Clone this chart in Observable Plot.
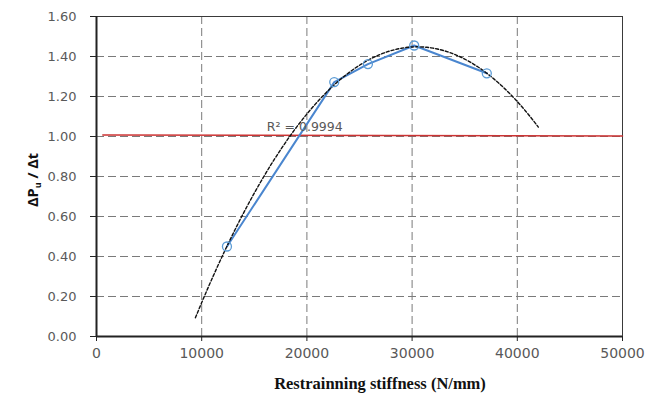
<!DOCTYPE html>
<html>
<head>
<meta charset="utf-8">
<script src="https://cdn.jsdelivr.net/npm/d3@7"></script>
<script src="https://cdn.jsdelivr.net/npm/@observablehq/plot@0.6"></script>
<style>
  html, body { margin: 0; padding: 0; background: #fff; }
  #chart { width: 658px; height: 394px; }
</style>
</head>
<body>
<div id="chart"></div>
<script>
// Measured restraint stiffness (N/mm) against the ratio ΔPu / Δt
const stiffness = [12400, 22600, 25800, 30200, 37100];
const ratio = [0.45, 1.272, 1.362, 1.455, 1.316];

// Reference line close to a ratio of 1.0
const refStiffness = [600, 50000];
const refRatio = [1.008, 1.002];

// Extent of the second-order polynomial trendline and its fit quality
const trendFrom = 9400;
const trendTo = 42000;
const r2Text = "R² = 0.9994";

const xTicks = [0, 10000, 20000, 30000, 40000, 50000];
const yTicks = [0, 0.2, 0.4, 0.6, 0.8, 1.0, 1.2, 1.4, 1.6];

const points = stiffness.map((x, i) => ({x, y: ratio[i]}));
const refLine = refStiffness.map((x, i) => ({x, y: refRatio[i]}));

// Least-squares quadratic y = a + b·u + c·u², u in thousands of N/mm
function quadFit(xs, ys) {
  const u = xs.map(v => v / 1000);
  const S = k => d3.sum(u, v => v ** k);
  const T = k => d3.sum(u, (v, i) => v ** k * ys[i]);
  const M = [[S(0), S(1), S(2), T(0)],
             [S(1), S(2), S(3), T(1)],
             [S(2), S(3), S(4), T(2)]];
  for (let i = 0; i < 3; i++) {
    for (let j = i + 1; j < 3; j++) {
      const f = M[j][i] / M[i][i];
      for (let k = i; k < 4; k++) M[j][k] -= f * M[i][k];
    }
  }
  const c = M[2][3] / M[2][2];
  const b = (M[1][3] - M[1][2] * c) / M[1][1];
  const a = (M[0][3] - M[0][1] * b - M[0][2] * c) / M[0][0];
  return x => { const v = x / 1000; return a + b * v + c * v * v; };
}
const fit = quadFit(stiffness, ratio);
const trend = d3.range(trendFrom, trendTo, 200).concat([trendTo]).map(x => ({x, y: fit(x)}));

const W = 658, H = 394;
const mL = 96, mR = 36, mT = 16, mB = 58;

const chart = Plot.plot({
  width: W,
  height: H,
  marginLeft: mL,
  marginRight: mR,
  marginTop: mT,
  marginBottom: mB,
  style: {background: "#fff", overflow: "visible"},
  x: {domain: [0, 50000], label: null},
  y: {domain: [0, 1.6], label: null},
  marks: [
    Plot.gridX(xTicks.slice(1, -1), {stroke: "#7a7a7a", strokeOpacity: 1, strokeDasharray: "8,4", strokeWidth: 1}),
    Plot.gridY(yTicks.slice(1, -1), {stroke: "#7a7a7a", strokeOpacity: 1, strokeDasharray: "8,4", strokeWidth: 1}),
    Plot.frame({stroke: "#3a3a3a", strokeWidth: 1}),
    Plot.line(refLine, {x: "x", y: "y", stroke: "#cc3333", strokeWidth: 1.5}),
    Plot.line(points, {x: "x", y: "y", stroke: "#4a86cf", strokeWidth: 2}),
    Plot.line(trend, {x: "x", y: "y", stroke: "#111", strokeWidth: 1.4, strokeDasharray: "3,2", curve: "linear"}),
    Plot.dot(points, {x: "x", y: "y", r: 4.5, stroke: "#5b9bd5", strokeWidth: 1.3, fill: "none"}),
    Plot.text([r2Text], {x: 19800, y: 1.03, text: d => d, textAnchor: "middle", lineAnchor: "bottom",
      fontSize: 12.5, fill: "#595959", fontFamily: "DejaVu Sans"}),
    Plot.ruleX([0], {stroke: "#222", strokeWidth: 2}),
    Plot.ruleY([0], {stroke: "#222", strokeWidth: 2}),
    Plot.axisY({ticks: yTicks, tickFormat: d3.format(".2f"), tickSize: 6, tickPadding: 14,
      stroke: "#222", fontSize: 13, fill: "#595959", fontFamily: "DejaVu Sans", label: null}),
    Plot.axisX({ticks: xTicks, tickFormat: d => String(d), tickSize: 5, tickPadding: 7,
      stroke: "#222", fontSize: 14, fill: "#595959", fontFamily: "DejaVu Sans", label: null})
  ]
});

document.getElementById("chart").appendChild(chart);

// Axis titles
const svg = d3.select(chart);
svg.append("text")
  .attr("x", (mL + W - mR) / 2 + 21)
  .attr("y", H - 5)
  .attr("text-anchor", "middle")
  .attr("font-family", "Liberation Serif")
  .attr("font-weight", "bold")
  .attr("font-size", 16.5)
  .attr("fill", "#111")
  .text("Restrainning stiffness (N/mm)");

const yTitle = svg.append("text")
  .attr("transform", `translate(38, ${mT + (H - mT - mB) / 2 + 4}) rotate(-90)`)
  .attr("text-anchor", "middle")
  .attr("font-family", "Open Sans")
  .attr("font-weight", "bold")
  .attr("font-size", 14.5)
  .attr("fill", "#111");
yTitle.append("tspan").text("ΔP");
yTitle.append("tspan").attr("font-size", 9).attr("dy", 3).text("u");
yTitle.append("tspan").attr("dy", -3).text(" / Δt");
</script>
</body>
</html>
